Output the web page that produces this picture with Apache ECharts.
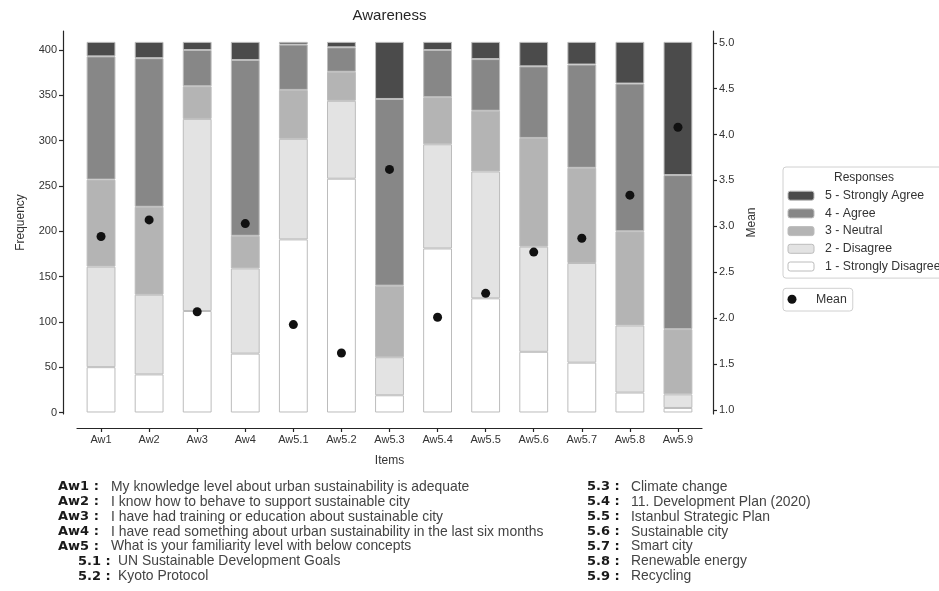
<!DOCTYPE html>
<html>
<head>
<meta charset="utf-8">
<script src="https://cdn.jsdelivr.net/npm/echarts@6/dist/echarts.min.js"></script>
<style>
html,body{margin:0;padding:0;background:#fff;}
#chart{width:939px;height:591px;}
</style>
</head>
<body>
<div id="chart"></div>
<script>
// ---- data ----
const categories = ['Aw1','Aw2','Aw3','Aw4','Aw5.1','Aw5.2','Aw5.3','Aw5.4','Aw5.5','Aw5.6','Aw5.7','Aw5.8','Aw5.9'];
const stronglyDisagree = [50, 42, 112, 65, 191, 258, 19, 181, 126, 67, 55, 22, 5];
const disagree         = [111, 88, 212, 94, 111, 86, 42, 115, 140, 116, 110, 74, 15];
const neutral          = [96, 97, 36, 36, 54, 32, 79, 52, 67, 120, 105, 104, 72];
const agree            = [136, 164, 40, 194, 50, 27, 206, 52, 57, 79, 114, 163, 170];
const stronglyAgree    = [16, 18, 9, 20, 3, 6, 63, 9, 19, 27, 25, 46, 147];
const means = [2.89, 3.07, 2.07, 3.03, 1.93, 1.62, 3.62, 2.01, 2.27, 2.72, 2.87, 3.34, 4.08];
const responseNames = ['1 - Strongly Disagree','2 - Disagree','3 - Neutral','4 - Agree','5 - Strongly Agree'];
const freqTicks = [0, 50, 100, 150, 200, 250, 300, 350, 400];
const meanTicks = [1.0, 1.5, 2.0, 2.5, 3.0, 3.5, 4.0, 4.5, 5.0];
const leftKeys = ['Aw1 :','Aw2 :','Aw3 :','Aw4 :','Aw5 :','5.1 :','5.2 :'];
const leftTexts = [
  'My knowledge level about urban sustainability is adequate',
  'I know how to behave to support sustainable city',
  'I have had training or education about sustainable city',
  'I have read something about urban sustainability in the last six months',
  'What is your familiarity level with below concepts',
  'UN Sustainable Development Goals',
  'Kyoto Protocol'
];
const rightKeys = ['5.3 :','5.4 :','5.5 :','5.6 :','5.7 :','5.8 :','5.9 :'];
const rightTexts = [
  'Climate change',
  '11. Development Plan (2020)',
  'Istanbul Strategic Plan',
  'Sustainable city',
  'Smart city',
  'Renewable energy',
  'Recycling'
];

// ---- styles ----
const colors = ['#ffffff', '#e3e3e3', '#b4b4b4', '#878787', '#4b4b4b'];
const edge = '#bcbcbc';
const axisColor = '#262626';
const labelColor = '#333333';
const FONT = 'Liberation Sans, Arial, sans-serif';

const seriesData = [stronglyDisagree, disagree, neutral, agree, stronglyAgree];
const barSeries = seriesData.map((d, i) => ({
  name: responseNames[i],
  type: 'bar',
  stack: 'resp',
  xAxisIndex: 0,
  yAxisIndex: 0,
  data: d,
  barWidth: '60%',
  itemStyle: { color: colors[i], borderColor: edge, borderWidth: 1 },
  emphasis: { disabled: true }
}));

// descriptions
const graphics = [];
const rowY0 = 487, rowStep = 14.9;
leftKeys.forEach((k, i) => {
  const sub = i >= 5;
  graphics.push({ type: 'text', x: sub ? 78 : 58, y: rowY0 + i * rowStep,
    style: { text: k, font: 'bold 13px DejaVu Sans', fill: '#1a1a1a', align: 'left', verticalAlign: 'middle' } });
  graphics.push({ type: 'text', x: sub ? 118 : 111, y: rowY0 + i * rowStep,
    style: { text: leftTexts[i], font: '13.9px ' + FONT, fill: '#444', align: 'left', verticalAlign: 'middle' } });
});
rightKeys.forEach((k, i) => {
  graphics.push({ type: 'text', x: 587, y: rowY0 + i * rowStep,
    style: { text: k, font: 'bold 13px DejaVu Sans', fill: '#1a1a1a', align: 'left', verticalAlign: 'middle' } });
  graphics.push({ type: 'text', x: 631, y: rowY0 + i * rowStep,
    style: { text: rightTexts[i], font: '13.9px ' + FONT, fill: '#444', align: 'left', verticalAlign: 'middle' } });
});
graphics.push({ type: 'text', x: 864, y: 177.5,
  style: { text: 'Responses', font: '12px ' + FONT, fill: '#333', align: 'center', verticalAlign: 'middle' } });

const chart = echarts.init(document.getElementById('chart'), null, { renderer: 'canvas' });
const option = {
  animation: false,
  backgroundColor: '#fff',
  textStyle: { fontFamily: FONT },
  title: {
    text: 'Awareness', left: 389.5, top: 8, textAlign: 'center', padding: 0,
    textStyle: { fontSize: 15, fontWeight: 'normal', color: '#262626', fontFamily: FONT }
  },
  grid: [
    { left: 77, right: 237, top: 31, bottom: 177 },
    { left: 77, right: 237, top: 420, bottom: 163 }
  ],
  xAxis: [
    {
      type: 'category', data: categories, gridIndex: 0, show: false
    },
    {
      type: 'category', data: categories, gridIndex: 1, position: 'bottom',
      name: 'Items', nameLocation: 'middle', nameGap: 27,
      nameTextStyle: { fontSize: 12, color: labelColor },
      axisLine: { show: true, onZero: false, lineStyle: { color: axisColor, width: 1.2 } },
      axisTick: { show: true, alignWithLabel: true, interval: 0, length: 4,
        lineStyle: { color: axisColor, width: 1.2 } },
      axisLabel: { margin: 6, fontSize: 11, color: labelColor, interval: 0 }
    }
  ],
  yAxis: [
    {
      type: 'value', gridIndex: 0, position: 'left', offset: 14,
      min: -1.66, max: 421,
      name: 'Frequency', nameLocation: 'middle', nameGap: 36, nameRotate: 90,
      nameTextStyle: { fontSize: 12, color: labelColor },
      splitLine: { show: false },
      axisLine: { show: true, onZero: false, lineStyle: { color: axisColor, width: 1.2 } },
      axisTick: { show: true, length: 4, customValues: freqTicks, lineStyle: { color: axisColor, width: 1.2 } },
      axisLabel: { margin: 6, fontSize: 11, color: labelColor, customValues: freqTicks }
    },
    {
      type: 'value', gridIndex: 0, position: 'right', offset: 11,
      min: 0.956, max: 5.128,
      name: 'Mean', nameLocation: 'middle', nameGap: 32, nameRotate: 90,
      nameTextStyle: { fontSize: 12, color: labelColor },
      splitLine: { show: false },
      axisLine: { show: true, onZero: false, lineStyle: { color: axisColor, width: 1.2 } },
      axisTick: { show: true, length: 4, customValues: meanTicks, lineStyle: { color: axisColor, width: 1.2 } },
      axisLabel: { margin: 6, fontSize: 11, color: labelColor, customValues: meanTicks,
        formatter: v => Number(v).toFixed(1) }
    },
    {
      type: 'value', gridIndex: 1, show: false, min: 0, max: 1
    }
  ],
  legend: [
    {
      orient: 'vertical', left: 783, top: 167,
      data: responseNames.slice().reverse(),
      selectedMode: false,
      itemWidth: 26, itemHeight: 9, itemGap: 3.7,
      padding: [21.7, 14, 4.6, 4.5],
      borderColor: '#d0d0d0', borderWidth: 1, borderRadius: 3,
      itemStyle: { borderColor: edge, borderWidth: 1 },
      textStyle: { fontSize: 12.3, color: '#333', lineHeight: 14, padding: [0, 0, 0, 6] }
    },
    {
      orient: 'vertical', left: 783, top: 288.3,
      data: ['Mean'],
      selectedMode: false,
      itemWidth: 26, itemHeight: 9, itemGap: 4,
      padding: [4, 6, 4.7, 4.5],
      borderColor: '#d0d0d0', borderWidth: 1, borderRadius: 3,
      itemStyle: { borderWidth: 0, opacity: 1 },
      textStyle: { fontSize: 12.3, color: '#333', lineHeight: 14, padding: [0, 0, 0, 6] }
    }
  ],
  series: barSeries.concat([{
    name: 'Mean', type: 'scatter', xAxisIndex: 0, yAxisIndex: 1, data: means,
    symbol: 'circle', symbolSize: 9, z: 5,
    itemStyle: { color: '#111', opacity: 1 }, emphasis: { disabled: true }
  }]),
  graphic: graphics
};
chart.setOption(option);
</script>
</body>
</html>
